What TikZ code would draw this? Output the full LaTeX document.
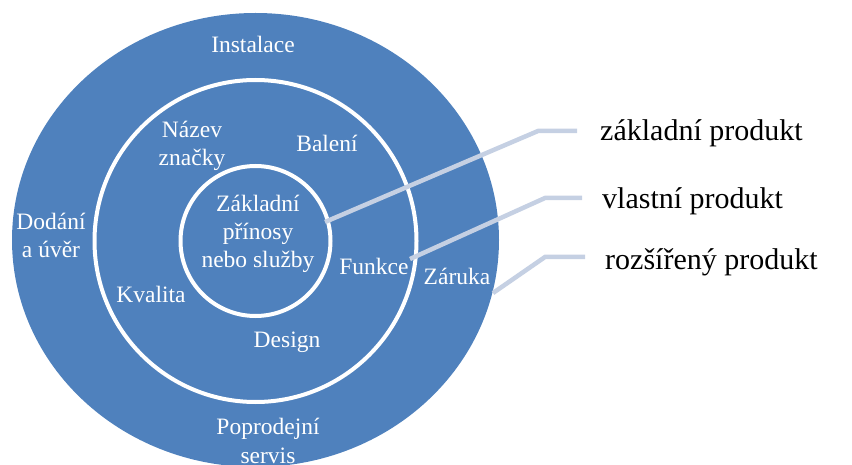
\documentclass[tikz,border=0pt]{standalone}
\usepackage{fontspec}
\setmainfont{Liberation Serif}
\usetikzlibrary{shapes.geometric}
\definecolor{ringblue}{RGB}{79,129,189}
\definecolor{leader}{RGB}{197,208,227}
\tikzset{
  ring/.style={draw=white, line width=4pt, fill=ringblue, circle, inner sep=0pt},
  inlabel/.style={text=white, align=center, inner sep=0pt, anchor=base,
    font=\fontsize{23.5}{28.2}\selectfont},
  outlabel/.style={text=black, inner sep=0pt, anchor=base west,
    font=\fontsize{30}{36}\selectfont},
  leaderline/.style={draw=leader, line width=4.5pt}
}
\begin{document}
\begin{tikzpicture}[x=1pt,y=-1pt]
\useasboundingbox (0,0) rectangle (852,465);
% rings
\node[ellipse, fill=ringblue, inner sep=0pt, minimum width=487pt, minimum height=454pt] (outer) at (255.5,240) {};
\node[ring, minimum size=322pt] (middle) at (255.5,241) {};
\node[ring, minimum size=150pt] (inner) at (255.5,241) {};
% labels in the rings (base = baseline of the last line)
\node[inlabel] (instalace) at (253,53) {Instalace};
\node[inlabel] (nazev) at (192,166) {Název\\značky};
\node[inlabel] (baleni) at (327,152) {Balení};
\node[inlabel] (zakladni) at (258,268) {Základní\\přínosy\\nebo služby};
\node[inlabel] (dodani) at (51,258) {Dodání\\a úvěr};
\node[inlabel] (funkce) at (374,275) {Funkce};
\node[inlabel] (zaruka) at (457,284) {Záruka};
\node[inlabel] (kvalita) at (151,302) {Kvalita};
\node[inlabel] (design) at (287,348) {Design};
\node[inlabel] (poprodejni) at (268,463) {Poprodejní\\servis};
% right labels
\node[outlabel] (lz) at (600,141) {základní produkt};
\node[outlabel] (lv) at (602,209) {vlastní produkt};
\node[outlabel] (lr) at (605,270) {rozšířený produkt};
% leader lines
\coordinate (s1) at (325,222);
\coordinate (k1) at (538,131);
\coordinate (e1) at (577,131);
\coordinate (s2) at (410,259);
\coordinate (k2) at (545,198);
\coordinate (e2) at (582,198);
\coordinate (s3) at (493,293);
\coordinate (k3) at (545,257);
\coordinate (e3) at (585,257);
\draw[leaderline] (s1) -- (k1) -- (e1);
\draw[leaderline] (s2) -- (k2) -- (e2);
\draw[leaderline] (s3) -- (k3) -- (e3);
\end{tikzpicture}
\end{document}
